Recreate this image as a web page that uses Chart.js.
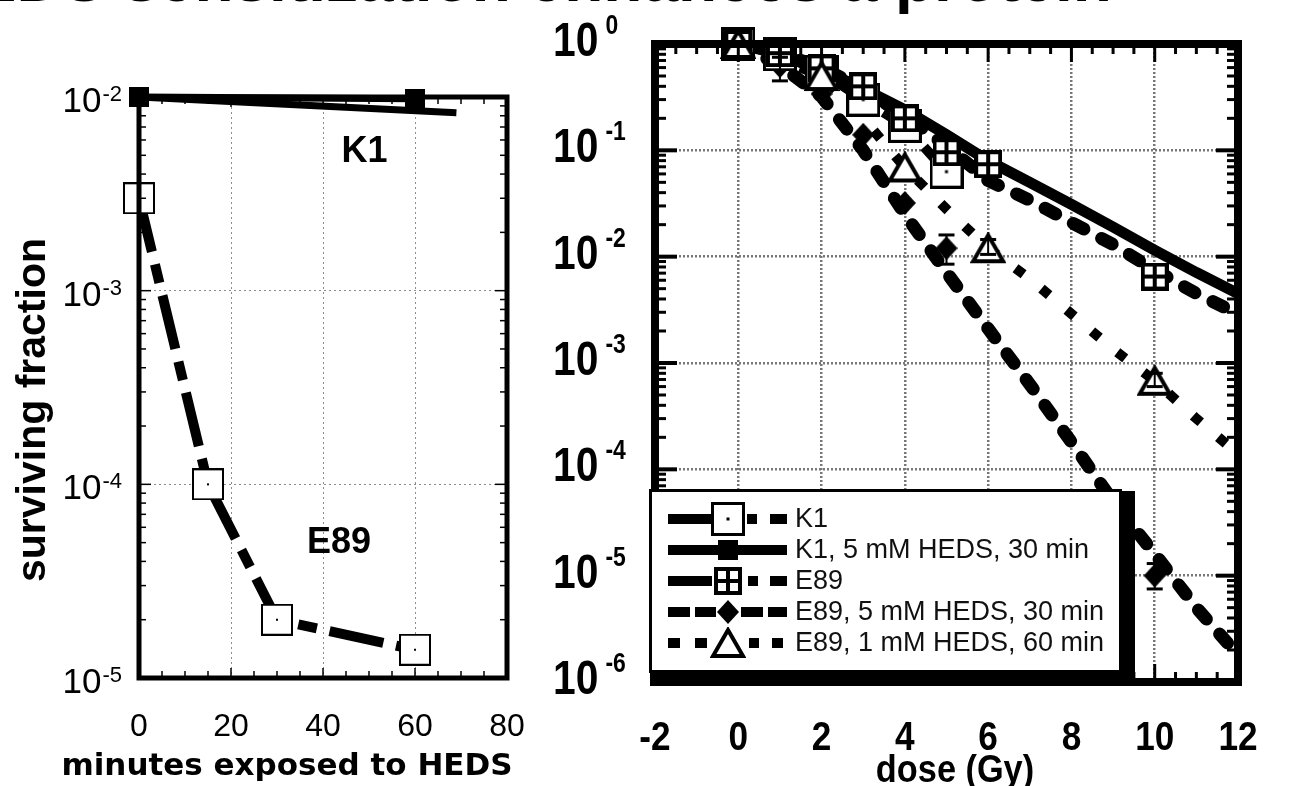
<!DOCTYPE html>
<html>
<head>
<meta charset="utf-8">
<script src="https://cdn.jsdelivr.net/npm/chart.js@4.4.0/dist/chart.umd.min.js"></script>
<style>
html, body { margin: 0; padding: 0; background: #fff; width: 1291px; height: 786px; overflow: hidden; }
canvas { position: absolute; left: 0; top: 0; }
</style>
</head>
<body>
<canvas id="left_chart" width="1291" height="786"></canvas>
<canvas id="right_chart" width="1291" height="786"></canvas>
<script>
// ---- left panel: survival vs minutes of HEDS exposure ----
const minutes_k1 = [0, 60];
const surv_k1 = [1.0e-2, 0.98e-2];
const minutes_k1_fit = [0, 69];
const surv_k1_fit = [1.0e-2, 0.83e-2];
const minutes_e89 = [0, 15, 30, 60];
const surv_e89 = [3.0e-3, 1.0e-4, 2.0e-5, 1.4e-5];
const minute_ticks = [0, 20, 40, 60, 80];
const left_decades = [-5, -4, -3, -2];

// ---- right panel: survival vs dose ----
const dose_k1 = [0, 1, 2, 3, 4, 5];
const surv_k1_dose = [1.0, 0.80, 0.55, 0.30, 0.17, 0.063];
const dose_k1_heds = [0, 1, 2, 3, 4, 5, 6, 7, 8, 9, 10, 11, 12];
const surv_k1_heds = [1.0, 0.80, 0.57, 0.38, 0.24, 0.14, 0.080, 0.050, 0.031, 0.019, 0.0115, 0.0071, 0.0045];
const dose_e89 = [0, 1, 2, 3, 4, 5, 6, 10];
const surv_e89_dose = [1.0, 0.82, 0.59, 0.40, 0.20, 0.096, 0.074, 0.0065];
const dose_e89_curve = [0, 1, 2, 3, 4, 5, 6, 7, 8, 9, 10, 11, 12];
const surv_e89_curve = [1.0, 0.82, 0.60, 0.38, 0.21, 0.11, 0.052, 0.034, 0.021, 0.013, 0.0075, 0.0045, 0.0029];
const dose_e89_5mm = [0, 1, 2, 3, 4, 5, 10];
const surv_e89_5mm = [1.0, 0.62, 0.34, 0.14, 0.032, 0.012, 1.0e-5];
const dose_e89_5mm_curve = [0, 1, 2, 3, 4, 5, 6, 7, 8, 9, 10, 11, 12];
const surv_e89_5mm_curve = [1.0, 0.63, 0.32, 0.10, 0.025, 0.0071, 0.0021, 6.3e-4, 1.8e-4, 5.0e-5, 1.6e-5, 5.0e-6, 1.8e-6];
const dose_e89_1mm = [0, 2, 4, 6, 10];
const surv_e89_1mm = [1.0, 0.50, 0.069, 0.012, 6.8e-4];
const dose_e89_1mm_curve = [0, 1, 2, 3, 4, 5, 6, 7, 8, 9, 10, 11, 12];
const surv_e89_1mm_curve = [1.0, 0.72, 0.50, 0.20, 0.069, 0.028, 0.012, 0.0062, 0.0029, 0.00135, 6.8e-4, 3.0e-4, 1.4e-4];
// error bars: [dose, low, high]
const err_e89_5mm = [[1, 0.45, 0.75], [5, 0.0085, 0.016], [10, 7.5e-6, 1.3e-5]];
const err_e89_1mm = [[6, 0.0105, 0.0145], [10, 6.0e-4, 8.0e-4]];
const dose_ticks = [-2, 0, 2, 4, 6, 8, 10, 12];
const right_decades = [-6, -5, -4, -3, -2, -1, 0];
const legend_labels = ['K1', 'K1, 5 mM HEDS, 30 min', 'E89', 'E89, 5 mM HEDS, 30 min', 'E89, 1 mM HEDS, 60 min'];

const pts = (xs, ys) => xs.map((x, i) => ({x: x, y: ys[i]}));

// marker images
function make_marker(w, h, draw) {
    const c = document.createElement('canvas');
    c.width = w; c.height = h;
    draw(c.getContext('2d'), w, h);
    return c;
}
const sq_dot_left = make_marker(32, 32, (g, w, h) => {
    g.fillStyle = '#fff'; g.fillRect(1, 1, w - 2, h - 2);
    g.strokeStyle = '#000'; g.lineWidth = 2; g.strokeRect(1, 1, w - 2, h - 2);
    g.fillStyle = '#000'; g.fillRect(w / 2 - 1, h / 2 - 1, 2, 2);
});
const sq_fill_left = make_marker(20, 20, (g, w, h) => { g.fillStyle = '#000'; g.fillRect(0, 0, w, h); });
const sq_dot = make_marker(34, 34, (g, w, h) => {
    g.fillStyle = '#fff'; g.fillRect(1, 1, w - 2, h - 2);
    g.strokeStyle = '#000'; g.lineWidth = 3; g.strokeRect(1.5, 1.5, w - 3, h - 3);
    g.fillStyle = '#000'; g.fillRect(w / 2 - 1.5, h / 2 - 1.5, 3, 3);
});
const sq_fill = make_marker(20, 20, (g, w, h) => { g.fillStyle = '#000'; g.fillRect(0, 0, w, h); });
const sq_cross = make_marker(28, 28, (g, w, h) => {
    g.fillStyle = '#000'; g.fillRect(0, 0, w, h);
    g.fillStyle = '#fff';
    g.fillRect(4, 4, 8, 8); g.fillRect(16, 4, 8, 8);
    g.fillRect(4, 16, 8, 8); g.fillRect(16, 16, 8, 8);
});
const tri = make_marker(36, 32, (g, w, h) => {
    g.beginPath(); g.moveTo(w / 2, 3); g.lineTo(w - 3, h - 3); g.lineTo(3, h - 3); g.closePath();
    g.fillStyle = '#fff'; g.fill();
    g.strokeStyle = '#000'; g.lineWidth = 4; g.lineJoin = 'miter'; g.stroke();
});
const diamond = make_marker(22, 24, (g, w, h) => {
    g.beginPath(); g.moveTo(w / 2, 0); g.lineTo(w, h / 2); g.lineTo(w / 2, h); g.lineTo(0, h / 2); g.closePath();
    g.fillStyle = '#000'; g.fill();
});

// text helpers
function power_label(g, x, y, exp, o) {
    g.save();
    g.fillStyle = '#000';
    g.textBaseline = 'alphabetic';
    g.textAlign = 'left';
    g.font = o.font;
    const w10 = g.measureText('10').width * o.sx;
    g.font = o.sup_font;
    const sup = String(exp);
    const w_sup = g.measureText(sup).width * o.sx;
    const x0 = o.align === 'right' ? x - w10 - o.gap - w_sup : x;
    g.translate(x0, y);
    g.scale(o.sx, 1);
    g.font = o.font;
    g.fillText('10', 0, 0);
    g.font = o.sup_font;
    g.fillText(sup, (w10 + o.gap) / o.sx, -o.rise);
    g.restore();
}
function squeezed_text(g, text, x, y, font, sx, align) {
    g.save();
    g.fillStyle = '#000';
    g.font = font;
    g.textAlign = align || 'center';
    g.textBaseline = 'middle';
    g.translate(x, y);
    g.scale(sx, 1);
    g.fillText(text, 0, 0);
    g.restore();
}
function seg(g, x1, y1, x2, y2) {
    g.beginPath(); g.moveTo(x1, y1); g.lineTo(x2, y2); g.stroke();
}

const left_decor = {
    id: 'left_decor',
    afterDatasetsDraw(chart) {
        const g = chart.ctx, a = chart.chartArea, xs = chart.scales.x, ys = chart.scales.y;
        g.save();
        g.strokeStyle = '#000';
        g.lineWidth = 1.5;
        for (let m = 5; m < 80; m += 5) {
            const px = xs.getPixelForValue(m);
            const len = m % 20 === 0 ? 10 : 7;
            seg(g, px, a.bottom, px, a.bottom - len);
            seg(g, px, a.top, px, a.top + len);
        }
        for (const e of left_decades) {
            for (let k = 1; k <= 9; k++) {
                const v = k * Math.pow(10, e);
                if (v > 1.0001e-2) continue;
                const py = ys.getPixelForValue(v);
                const len = k === 1 ? 12 : 7;
                seg(g, a.left, py, a.left + len, py);
                seg(g, a.right, py, a.right - len, py);
            }
        }
        g.lineWidth = 5;
        g.strokeRect(a.left, a.top, a.right - a.left, a.bottom - a.top);
        g.restore();
    },
    afterDraw(chart) {
        const g = chart.ctx, xs = chart.scales.x, ys = chart.scales.y;
        // slide heading, mostly outside the picture
        g.save();
        g.fillStyle = '#000';
        g.font = 'bold 64px "Liberation Sans"';
        g.textBaseline = 'alphabetic';
        g.textAlign = 'right';
        g.fillText('HEDS sensitization enhances a ', 895, 1);
        g.textAlign = 'left';
        g.fillText('protein', 895, 1);
        g.restore();
        for (const e of left_decades) {
            power_label(g, 122, ys.getPixelForValue(Math.pow(10, e)) + 15, e,
                {font: '35px "Liberation Sans"', sup_font: '22px "Liberation Sans"', sx: 1, align: 'right', gap: 1, rise: 11});
        }
        for (const m of minute_ticks) {
            squeezed_text(g, String(m), xs.getPixelForValue(m), 727, '32px "Liberation Sans"', 1);
        }
        squeezed_text(g, 'minutes exposed to HEDS', 287, 767, 'bold 31px "DejaVu Sans"', 1);
        g.save();
        g.translate(34, 410);
        g.rotate(-Math.PI / 2);
        squeezed_text(g, 'surviving fraction', 0, 0, 'bold 41px "Liberation Sans"', 1);
        g.restore();
        squeezed_text(g, 'K1', xs.getPixelForValue(49), ys.getPixelForValue(5.2e-3), 'bold 36px "Liberation Sans"', 1);
        squeezed_text(g, 'E89', xs.getPixelForValue(43.5), ys.getPixelForValue(5.0e-5), 'bold 36px "Liberation Sans"', 1);
    }
};

const right_decor = {
    id: 'right_decor',
    afterDatasetsDraw(chart) {
        const g = chart.ctx, a = chart.chartArea, xs = chart.scales.x, ys = chart.scales.y;
        g.save();
        g.strokeStyle = '#000';
        // error bars
        for (const [d, lo, hi] of err_e89_5mm.concat(err_e89_1mm)) {
            const px = xs.getPixelForValue(d);
            const y1 = ys.getPixelForValue(lo), y2 = ys.getPixelForValue(hi);
            g.lineWidth = 2; seg(g, px, y1, px, y2);
            g.lineWidth = 3; seg(g, px - 8, y1, px + 8, y1); seg(g, px - 8, y2, px + 8, y2);
        }
        g.lineWidth = 3;
        for (let d = -1.5; d < 12; d += 0.5) {
            const px = xs.getPixelForValue(d);
            const len = Math.abs(d % 2) < 1e-9 ? 18 : 10;
            seg(g, px, a.bottom, px, a.bottom - len);
            seg(g, px, a.top, px, a.top + len);
        }
        for (const e of right_decades) {
            for (let k = 1; k <= 9; k++) {
                const v = k * Math.pow(10, e);
                if (v > 1.0001) continue;
                const py = ys.getPixelForValue(v);
                const len = k === 1 ? 22 : 11;
                g.lineWidth = k === 1 ? 4 : 3;
                seg(g, a.left, py, a.left + len, py);
                seg(g, a.right, py, a.right - len, py);
            }
        }
        g.lineWidth = 8;
        g.strokeRect(a.left, a.top, a.right - a.left, a.bottom - a.top);
        g.restore();
    },
    afterDraw(chart) {
        const g = chart.ctx, xs = chart.scales.x, ys = chart.scales.y;
        for (const e of right_decades) {
            power_label(g, 553, ys.getPixelForValue(Math.pow(10, e)) + 12, e,
                {font: 'bold 48px "Liberation Sans"', sup_font: 'bold 27px "Liberation Sans"', sx: 0.85, align: 'left', gap: 7, rise: 22});
        }
        for (const d of dose_ticks) {
            squeezed_text(g, String(d), xs.getPixelForValue(d), 739, 'bold 40px "Liberation Sans"', 0.88);
        }
        squeezed_text(g, 'dose (Gy)', 955, 771, 'bold 39px "Liberation Sans"', 0.88);

        // legend box with heavy shadow
        g.save();
        g.fillStyle = '#000';
        g.fillRect(1119, 491, 16, 195);
        g.fillRect(650, 670, 485, 16);
        g.fillStyle = '#fff';
        g.fillRect(651, 491, 468, 179);
        g.strokeStyle = '#000';
        g.lineWidth = 3;
        g.strokeRect(650.5, 490.5, 470, 181);
        const rows = [519, 550, 581, 612, 643];
        const bars = [
            [[668, 712], [747, 757], [770, 787]],
            [[668, 787]],
            [[668, 712], [748, 758], [770, 787]],
            [[668, 690], [695, 716], [741, 763], [768, 787]],
            [[668, 680], [695, 707], [749, 759], [772, 783]]
        ];
        const marks = [sq_dot, sq_fill, sq_cross, diamond, tri];
        rows.forEach((y, i) => {
            g.fillStyle = '#000';
            for (const [x1, x2] of bars[i]) g.fillRect(x1, y - 5, x2 - x1, 10);
            const m = marks[i];
            g.drawImage(m, 728 - m.width / 2, y - m.height / 2);
            g.fillStyle = '#111';
            g.font = '27px "Liberation Sans"';
            g.textAlign = 'left';
            g.textBaseline = 'middle';
            g.fillText(legend_labels[i], 795, y + 1);
        });
        g.restore();
    }
};

new Chart(document.getElementById('left_chart'), {
    type: 'line',
    data: {
        datasets: [
            {data: pts(minutes_k1, surv_k1), showLine: false, pointStyle: sq_fill_left, pointRadius: 5, clip: false},
            {data: pts(minutes_e89, surv_e89), showLine: false, pointStyle: sq_dot_left, pointRadius: 5, clip: false},
            {data: pts(minutes_k1, surv_k1), borderColor: '#000', borderWidth: 7, pointRadius: 0, clip: false},
            {data: pts(minutes_k1_fit, surv_k1_fit), borderColor: '#000', borderWidth: 7, pointRadius: 0, clip: false},
            {data: pts(minutes_e89, surv_e89), borderColor: '#000', borderWidth: 10, borderDash: [55, 13, 19, 13], pointRadius: 0, clip: false}
        ]
    },
    options: {
        responsive: false,
        animation: false,
        devicePixelRatio: 1,
        layout: {padding: {left: 139, right: 1291 - 507, top: 97, bottom: 786 - 678}},
        plugins: {legend: {display: false}, tooltip: {enabled: false}},
        scales: {
            x: {
                type: 'linear', min: 0, max: 80,
                afterBuildTicks: axis => { axis.ticks = minute_ticks.map(v => ({value: v})); },
                ticks: {display: false},
                grid: {drawTicks: false, lineWidth: 1, color: c => (c.tick && c.tick.value > 0 && c.tick.value < 80) ? '#8c8c8c' : 'rgba(0,0,0,0)'},
                border: {display: false, dash: [2, 3]}
            },
            y: {
                type: 'logarithmic', min: 1e-5, max: 1e-2,
                afterBuildTicks: axis => { axis.ticks = left_decades.map(e => ({value: Math.pow(10, e)})); },
                ticks: {display: false},
                grid: {drawTicks: false, lineWidth: 1, color: c => (c.tick && c.tick.value > 1.1e-5 && c.tick.value < 0.9e-2) ? '#8c8c8c' : 'rgba(0,0,0,0)'},
                border: {display: false, dash: [2, 3]}
            }
        }
    },
    plugins: [left_decor]
});

new Chart(document.getElementById('right_chart'), {
    type: 'line',
    data: {
        datasets: [
            {data: pts(dose_e89_1mm, surv_e89_1mm), showLine: false, pointStyle: tri, pointRadius: 5, clip: false},
            {data: pts(dose_e89, surv_e89_dose), showLine: false, pointStyle: sq_cross, pointRadius: 5, clip: false},
            {data: pts(dose_k1, surv_k1_dose), showLine: false, pointStyle: sq_dot, pointRadius: 5, clip: false},
            {data: pts(dose_e89_5mm, surv_e89_5mm), showLine: false, pointStyle: diamond, pointRadius: 5, clip: false},
            {data: pts(dose_k1_heds, surv_k1_heds), borderColor: '#000', borderWidth: 11, pointRadius: 0, clip: false},
            {data: pts(dose_k1, surv_k1_dose), borderColor: '#000', borderWidth: 10, borderDash: [24, 10, 10, 10], pointRadius: 0, clip: false},
            {data: pts(dose_e89_curve, surv_e89_curve), borderColor: '#000', borderWidth: 13, borderDash: [12, 20], borderCapStyle: 'round', pointRadius: 0, clip: false},
            {data: pts(dose_e89_5mm_curve, surv_e89_5mm_curve), borderColor: '#000', borderWidth: 13, borderDash: [12, 20], borderCapStyle: 'round', pointRadius: 0, clip: false},
            {data: pts(dose_e89_1mm_curve, surv_e89_1mm_curve), borderColor: '#000', borderWidth: 10, borderDash: [10, 23], pointRadius: 0, clip: false}
        ]
    },
    options: {
        responsive: false,
        animation: false,
        devicePixelRatio: 1,
        layout: {padding: {left: 655, right: 1291 - 1238, top: 44, bottom: 786 - 682}},
        plugins: {legend: {display: false}, tooltip: {enabled: false}},
        scales: {
            x: {
                type: 'linear', min: -2, max: 12,
                afterBuildTicks: axis => { axis.ticks = dose_ticks.map(v => ({value: v})); },
                ticks: {display: false},
                grid: {drawTicks: false, lineWidth: 2.5, color: c => (c.tick && c.tick.value > -2 && c.tick.value < 12) ? '#777' : 'rgba(0,0,0,0)'},
                border: {display: false, dash: [2, 2]}
            },
            y: {
                type: 'logarithmic', min: 1e-6, max: 1,
                afterBuildTicks: axis => { axis.ticks = right_decades.map(e => ({value: Math.pow(10, e)})); },
                ticks: {display: false},
                grid: {drawTicks: false, lineWidth: 2.5, color: c => (c.tick && c.tick.value > 1.1e-6 && c.tick.value < 0.9) ? '#777' : 'rgba(0,0,0,0)'},
                border: {display: false, dash: [2, 2]}
            }
        }
    },
    plugins: [right_decor]
});
</script>
</body>
</html>
